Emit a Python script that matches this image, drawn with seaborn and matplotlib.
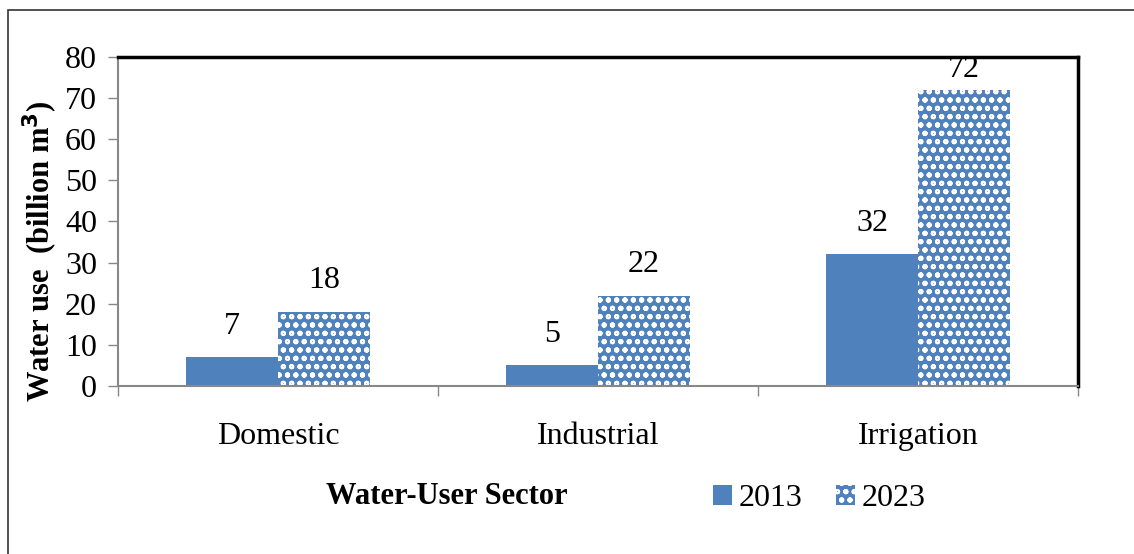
import numpy as np
import pandas as pd
import seaborn as sns
import matplotlib.pyplot as plt
from matplotlib.patches import Rectangle, Patch

sectors = ['Domestic', 'Industrial', 'Irrigation']
years = ['2013', '2023']
use_2013 = [7, 5, 32]
use_2023 = [18, 22, 72]

df = pd.DataFrame({
    'sector': sectors * 2,
    'year': [years[0]] * 3 + [years[1]] * 3,
    'use': use_2013 + use_2023,
})

sns.set_style('white')
plt.rcParams['font.family'] = ['Liberation Serif', 'DejaVu Serif']
plt.rcParams['hatch.linewidth'] = 1.4
plt.rcParams['text.color'] = 'black'
plt.rcParams['xtick.labelcolor'] = 'black'
plt.rcParams['ytick.labelcolor'] = 'black'
plt.rcParams['axes.labelcolor'] = 'black'

blue = '#4F81BD'
fig = plt.figure(figsize=(11.34, 5.54), dpi=100)
ax = fig.add_axes([0.104, 0.3032, 0.8466, 0.594])

sns.barplot(data=df, x='sector', y='use', hue='year', palette=[blue, blue],
            width=0.575, saturation=1, ax=ax, legend=False)

# second series gets the dotted fill
for bar in ax.containers[1]:
    bar.set_facecolor(blue)
    bar.set_edgecolor('white')
    bar.set_hatch('oo')
    bar.set_linewidth(0)
for bar in ax.containers[0]:
    bar.set_linewidth(0)

ax.set_ylim(0, 80)
top = ax.get_ylim()[1]

# value labels above bars, pulled down near the frame
for cont in ax.containers:
    for bar in cont:
        h = bar.get_height()
        off = 12 if h < 0.85 * top else 4
        ax.annotate(f'{h:.0f}', (bar.get_x() + bar.get_width() / 2, h),
                    xytext=(0, off), textcoords='offset points',
                    ha='center', va='bottom', fontsize=23)

ax.set_yticks(range(0, 81, 10))
ax.set_xlim(-0.5, 2.5)
ax.tick_params(axis='y', labelsize=23, length=7, width=1, color='#888888',
               direction='out', left=True, pad=8)
ax.set_xticks([0, 1, 2])
ax.set_xticklabels(sectors, fontsize=23)
ax.tick_params(axis='x', length=0, pad=26)
# tick marks at category boundaries
ax.set_xticks([-0.5, 0.5, 1.5, 2.5], minor=True)
ax.tick_params(axis='x', which='minor', length=7, width=1, color='#888888',
               direction='out', bottom=True)

for side in ['left', 'bottom']:
    ax.spines[side].set_color('#888888')
    ax.spines[side].set_linewidth(1.5)
for side in ['top', 'right']:
    ax.spines[side].set_color('black')
    ax.spines[side].set_linewidth(2.5)

ax.set_xlabel('')
ax.set_ylabel('Water use  (billion m$^\\mathbf{3}$)', fontsize=22, fontweight='bold')
ax.yaxis.set_label_coords(-0.06, 0.41)

fig.text(0.394, 0.103, 'Water-User Sector', fontsize=22, fontweight='bold',
         ha='center', va='center')

handles = [Patch(facecolor=blue, linewidth=0),
           Patch(facecolor=blue, edgecolor='white', hatch='oo', linewidth=0)]
fig.legend(handles, years, loc='center left', bbox_to_anchor=(0.629, 0.1),
           ncol=2, frameon=False, fontsize=23, handlelength=0.6,
           handleheight=0.6, handletextpad=0.2, columnspacing=1.05,
           borderpad=0, borderaxespad=0)

# outer chart border
fig.patches.append(Rectangle((0.007, -0.05), 1.05, 1.032, transform=fig.transFigure,
                             fill=False, edgecolor='#333333', linewidth=1.2))

fig.savefig('out.png', dpi=100)
